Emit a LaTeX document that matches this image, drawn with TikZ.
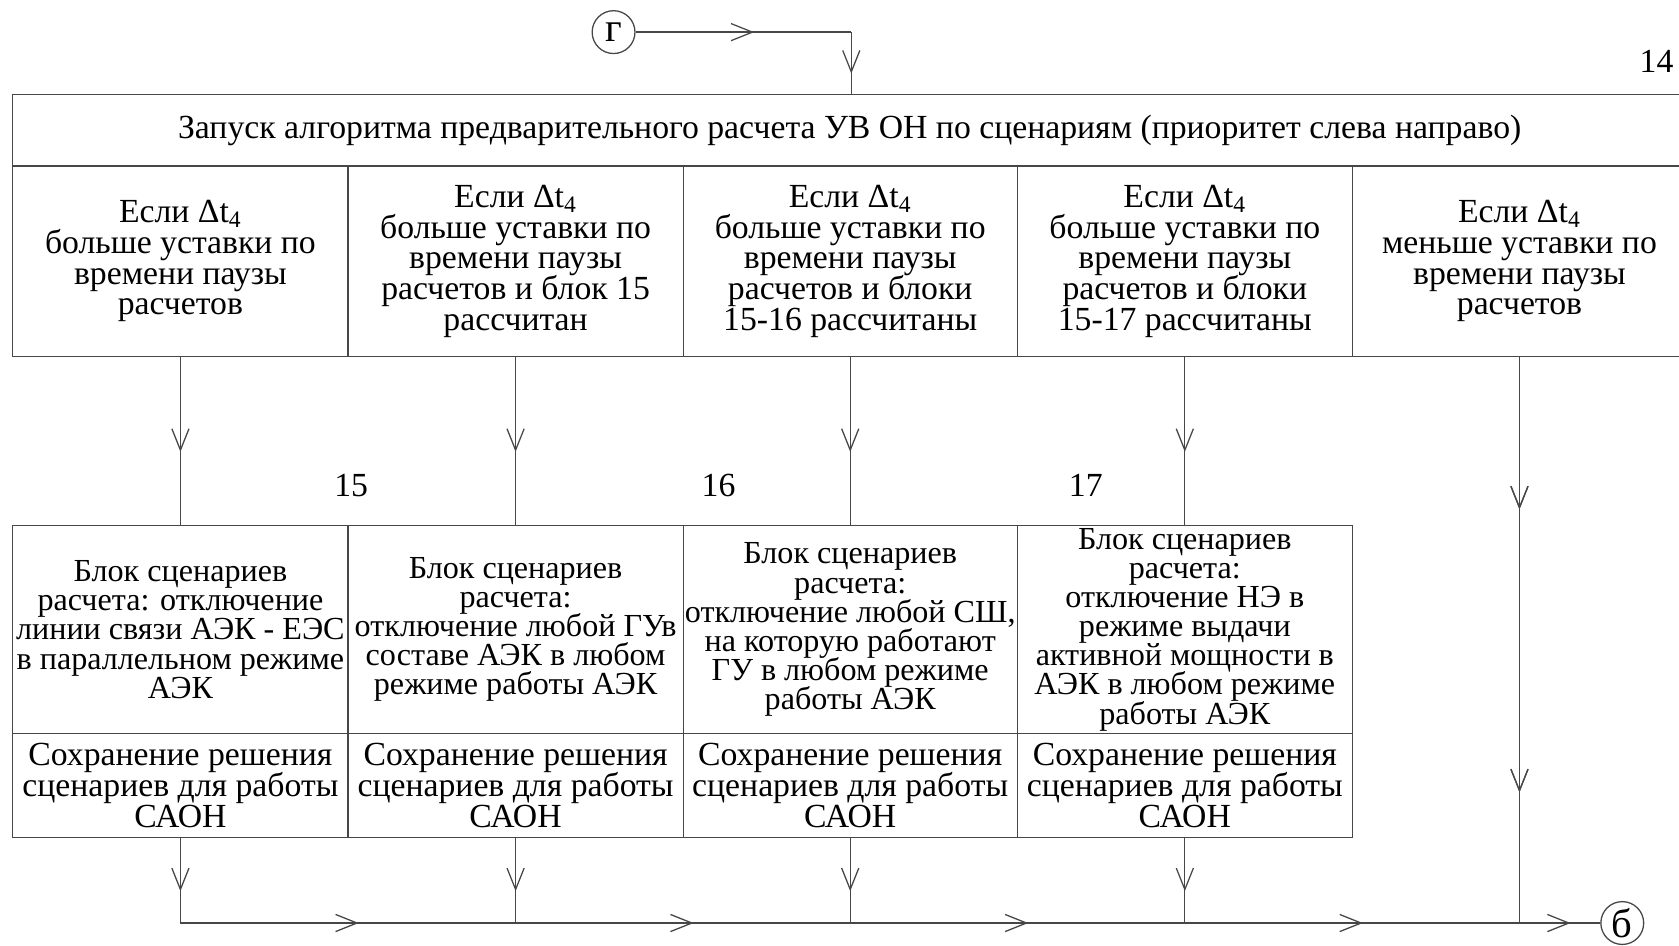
\documentclass[tikz,border=0pt]{standalone}
\usepackage{fontspec}
\setmainfont{Liberation Serif}
\usetikzlibrary{decorations.markings,arrows.meta}
\newcommand\tightlines{\lineskiplimit-20pt\relax}
\newcommand\cellbox[7][]{%
  \node[cellframe,minimum width={(#4-#2)*0.5pt},minimum height={(#5-#3)*0.5pt}]
     (#6) at ({(#2+#4)/2},{(#3+#5)/2}) {};
  \node[celltext,#1] (#6t) at (#6.center) {#7};}
\begin{document}
\begin{tikzpicture}[x=0.5pt,y=-0.5pt,
  cellframe/.style={draw=black!72,line width=0.6pt,rectangle,inner sep=0pt},
  celltext/.style={inner sep=0pt,align=center,
    font=\fontsize{15.75}{14.3}\selectfont\tightlines},
  lowcell/.style={font=\fontsize{15}{13.6}\selectfont\tightlines},
  conn/.style={draw=black!72,line width=0.6pt},
  tipstyle/.tip={Straight Barb[length=10pt,width=8pt,line width=0.6pt]},
  arrowat/.style={postaction={decorate},decoration={markings,
     mark=at position #1 with {\arrow[xshift=5pt]{tipstyle}}}},
  midarrow/.style={arrowat=0.5},
  conncirc/.style={draw=black!72,line width=0.6pt,circle,minimum size=20pt,inner sep=0pt,
    font=\fontsize{19}{19}\selectfont},
  numlab/.style={font=\fontsize{15.75}{15.75}\selectfont}]
\useasboundingbox (0,0) rectangle (1568,883);

\node[conncirc] (g) at (573,30) {г};
\coordinate (gc) at (795,30);

\cellbox{12}{88}{1575}{155}{h}{Запуск алгоритма предварительного расчета УВ ОН по сценариям (приоритет слева направо)}
\node[numlab] (n14) at (1547,57) {14};

\cellbox{12}{155}{325}{333}{r1}{Если Δt\textsubscript{4}\\больше уставки по\\времени паузы\\расчетов}
\cellbox{325}{155}{638}{333}{r2}{Если Δt\textsubscript{4}\\больше уставки по\\времени паузы\\расчетов и блок 15\\рассчитан}
\cellbox{638}{155}{950}{333}{r3}{Если Δt\textsubscript{4}\\больше уставки по\\времени паузы\\расчетов и блоки\\15-16 рассчитаны}
\cellbox{950}{155}{1263}{333}{r4}{Если Δt\textsubscript{4}\\больше уставки по\\времени паузы\\расчетов и блоки\\15-17 рассчитаны}
\cellbox{1263}{155}{1575}{333}{r5}{Если Δt\textsubscript{4}\\меньше уставки по\\времени паузы\\расчетов}

\node[numlab] (n15) at (328,453) {15};
\node[numlab] (n16) at (671,453) {16};
\node[numlab] (n17) at (1014,453) {17};

\cellbox[lowcell]{12}{491}{325}{685}{b1}{Блок сценариев\\расчета: отключение\\линии связи АЭК - ЕЭС\\в параллельном режиме\\АЭК}
\cellbox[lowcell]{325}{491}{638}{685}{b2}{Блок сценариев\\расчета:\\отключение любой ГУв\\составе АЭК в любом\\режиме работы АЭК}
\cellbox[lowcell]{638}{491}{950}{685}{b3}{Блок сценариев\\расчета:\\отключение любой СШ,\\на которую работают\\ГУ в любом режиме\\работы АЭК}
\cellbox[lowcell]{950}{491}{1263}{685}{b4}{Блок сценариев\\расчета:\\отключение НЭ в\\режиме выдачи\\активной мощности в\\АЭК в любом режиме\\работы АЭК}

\cellbox{12}{685}{325}{782}{s1}{Сохранение решения\\сценариев для работы\\САОН}
\cellbox{325}{685}{638}{782}{s2}{Сохранение решения\\сценариев для работы\\САОН}
\cellbox{638}{685}{950}{782}{s3}{Сохранение решения\\сценариев для работы\\САОН}
\cellbox{950}{685}{1263}{782}{s4}{Сохранение решения\\сценариев для работы\\САОН}

\node[conncirc] (bb) at (1515,862) {б};
\coordinate (bl) at (0,862);
\coordinate (j1) at (s1.south |- bl);
\coordinate (j2) at (s2.south |- bl);
\coordinate (j3) at (s3.south |- bl);
\coordinate (j4) at (s4.south |- bl);
\coordinate (j5) at (1419,862);

% connectors
\draw[conn,midarrow] (g.east) -- (gc);
\draw[conn,midarrow] (gc) -- (gc |- h.north);
\draw[conn,midarrow] (r1.south) -- (b1.north);
\draw[conn,midarrow] (r2.south) -- (b2.north);
\draw[conn,midarrow] (r3.south) -- (b3.north);
\draw[conn,midarrow] (r4.south) -- (b4.north);
\draw[conn,arrowat=0.25,arrowat=0.75] (j5 |- r5.south) -- (j5);
\draw[conn,midarrow] (s1.south) -- (j1);
\draw[conn,midarrow] (s2.south) -- (j2);
\draw[conn,midarrow] (s3.south) -- (j3);
\draw[conn,midarrow] (s4.south) -- (j4);
\draw[conn,midarrow] (j1) -- (j2);
\draw[conn,midarrow] (j2) -- (j3);
\draw[conn,midarrow] (j3) -- (j4);
\draw[conn,midarrow] (j4) -- (j5);
\draw[conn,midarrow] (j5) -- (bb.west);
\end{tikzpicture}
\end{document}
